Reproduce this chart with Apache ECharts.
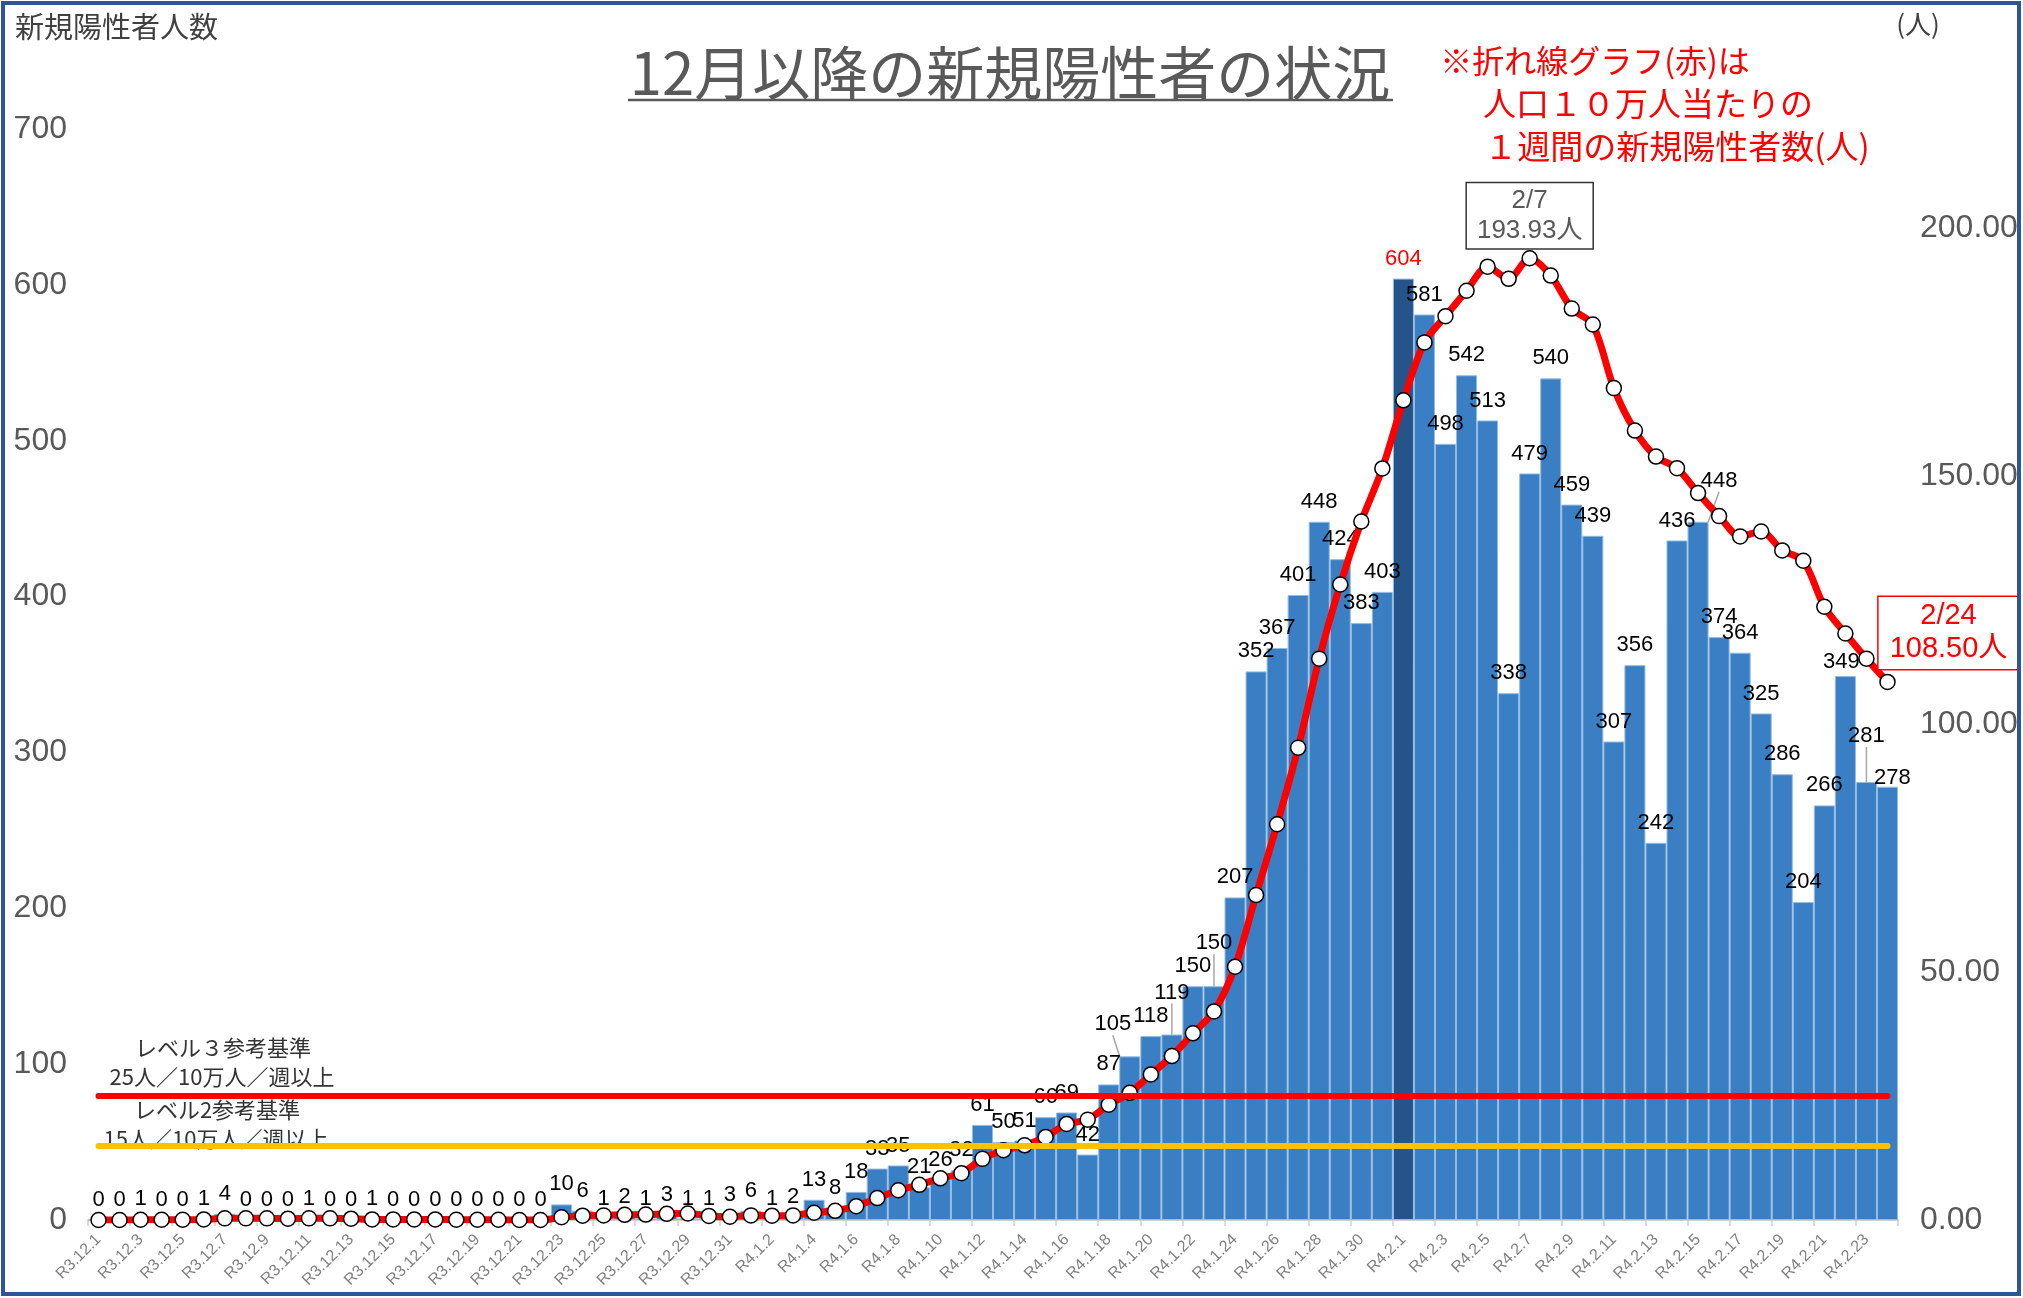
<!DOCTYPE html>
<html>
<head>
<meta charset="utf-8">
<script src="https://cdn.jsdelivr.net/npm/echarts@6/dist/echarts.min.js"></script>
<style>html,body{margin:0;padding:0;background:#fff;}#c{width:2023px;height:1298px;}</style>
</head>
<body>
<div id="c"></div>
<script>
// ---- data ----
const categories = [
 'R3.12.1','R3.12.2','R3.12.3','R3.12.4','R3.12.5','R3.12.6','R3.12.7','R3.12.8','R3.12.9','R3.12.10',
 'R3.12.11','R3.12.12','R3.12.13','R3.12.14','R3.12.15','R3.12.16','R3.12.17','R3.12.18','R3.12.19','R3.12.20',
 'R3.12.21','R3.12.22','R3.12.23','R3.12.24','R3.12.25','R3.12.26','R3.12.27','R3.12.28','R3.12.29','R3.12.30','R3.12.31',
 'R4.1.1','R4.1.2','R4.1.3','R4.1.4','R4.1.5','R4.1.6','R4.1.7','R4.1.8','R4.1.9','R4.1.10',
 'R4.1.11','R4.1.12','R4.1.13','R4.1.14','R4.1.15','R4.1.16','R4.1.17','R4.1.18','R4.1.19','R4.1.20',
 'R4.1.21','R4.1.22','R4.1.23','R4.1.24','R4.1.25','R4.1.26','R4.1.27','R4.1.28','R4.1.29','R4.1.30','R4.1.31',
 'R4.2.1','R4.2.2','R4.2.3','R4.2.4','R4.2.5','R4.2.6','R4.2.7','R4.2.8','R4.2.9','R4.2.10',
 'R4.2.11','R4.2.12','R4.2.13','R4.2.14','R4.2.15','R4.2.16','R4.2.17','R4.2.18','R4.2.19','R4.2.20',
 'R4.2.21','R4.2.22','R4.2.23','R4.2.24'
];
const newCases = [
 0,0,1,0,0,1,4,0,0,0,1,0,0,1,0,0,0,0,0,0,0,0,10,6,1,2,1,3,1,1,3,
 6,1,2,13,8,18,33,35,21,26,32,61,50,51,66,69,42,87,105,118,119,150,150,207,352,367,401,448,424,383,403,
 604,581,498,542,513,338,479,540,459,439,307,356,242,436,448,374,364,325,286,204,266,349,281,278
];
const per100k = [
 0.00,0.00,0.05,0.05,0.05,0.11,0.33,0.33,0.33,0.27,0.33,0.33,0.27,0.11,0.11,0.11,0.11,0.05,0.05,0.05,0.00,0.00,0.55,0.87,0.93,1.04,1.09,1.25,1.31,0.82,0.65,
 0.93,0.87,0.93,1.47,1.85,2.78,4.42,6.00,7.09,8.40,9.44,12.33,14.07,15.06,16.75,19.37,20.24,23.24,25.64,29.35,33.06,37.64,42.06,51.06,65.52,79.81,95.25,113.20,128.15,140.86,151.55,
 165.29,176.97,182.26,187.39,192.24,189.79,193.93,190.44,183.79,180.57,167.75,159.19,153.95,151.60,146.58,141.94,137.85,138.84,135.02,132.94,123.67,118.27,113.20,108.50
];
const leftTicks = [0,700,100];
const rightTicks = [0,220,50];
const level3 = 25, level2 = 15;
const peakCat = 'R4.2.7', peakVal = 193.93;
const lastCat = 'R4.2.24', lastVal = 108.50;
const highlightCat = 'R4.2.1';

// ---- styles / label tweaks (not data) ----
const labelMoves = {49:[-17,-12,true],51:[0,-22,true],53:[0,-23,true],76:[21,-21,true],83:[-4,6,false],84:[0,-26,true],85:[5,11,false]};
const NUM = "'Liberation Sans', Arial, 'Noto Sans CJK JP', sans-serif";
const JP = "'Noto Sans CJK JP', sans-serif";

const barData = newCases.map((v,i)=>{
  const item = {value:v};
  if (categories[i] === highlightCat) {
    item.itemStyle = {color:'#25548A'};
    item.label = {color:'#FF0000'};
  }
  if (labelMoves[i] && labelMoves[i][2]) item.labelLine = {show:true, lineStyle:{color:'#a6a6a6', width:1.5}};
  return item;
});

const chart = echarts.init(document.getElementById('c'));
const option = {
  backgroundColor:'#ffffff',
  animation:false,
  grid:{left:88,right:125,top:129,bottom:78},
  xAxis:{
    type:'category', data:categories, boundaryGap:true,
    axisLine:{show:true, lineStyle:{color:'#d0d0d0', width:2}},
    axisTick:{show:true, interval:1, length:6, lineStyle:{color:'#d0d0d0', width:1.5}},
    axisLabel:{interval:1, rotate:45, fontSize:16, color:'#7f7f7f', margin:17, fontFamily:NUM}
  },
  yAxis:[
    {type:'value', min:leftTicks[0], max:leftTicks[1], interval:leftTicks[2],
     splitLine:{show:false}, axisLine:{show:false}, axisTick:{show:false},
     axisLabel:{fontSize:32, color:'#595959', margin:21, fontFamily:NUM}},
    {type:'value', min:rightTicks[0], max:rightTicks[1], interval:rightTicks[2], position:'right',
     splitLine:{show:false}, axisLine:{show:false}, axisTick:{show:false},
     axisLabel:{fontSize:32, color:'#595959', margin:22, fontFamily:NUM, showMaxLabel:false,
       formatter:(v)=> v>200 ? '' : v.toFixed(2)}}
  ],
  series:[
    {
      type:'bar', yAxisIndex:0, data:barData, barCategoryGap:'0%', barGap:'0%',
      itemStyle:{color:'#3A7FC3', borderColor:'#94BCE3', borderWidth:1},
      label:{show:true, position:'top', distance:9, color:'#000', fontSize:22, fontFamily:NUM},
      labelLayout:(p)=>{ const m = labelMoves[p.dataIndex]; return m ? {dx:m[0], dy:m[1]} : {}; },
      z:2
    },
    {
      type:'line', yAxisIndex:1, data:per100k, smooth:0.3,
      symbol:'circle', symbolSize:15, showAllSymbol:true,
      lineStyle:{color:'#FF0000', width:7},
      itemStyle:{color:'#ffffff', borderColor:'#000000', borderWidth:1.5},
      z:4,
      markLine:{
        silent:true, symbol:['none','none'], animation:false,
        label:{show:false},
        data:[
          [{coord:[categories[0], level3], lineStyle:{color:'#FF0000', width:6, type:'solid', cap:'round'}},
           {coord:[categories[categories.length-1], level3]}],
          [{coord:[categories[0], level2], lineStyle:{color:'#FFC000', width:6, type:'solid', cap:'round'}},
           {coord:[categories[categories.length-1], level2]}]
        ]
      },
      markPoint:{
        silent:true, symbol:'circle', symbolSize:0, animation:false,
        data:[
          {coord:[peakCat, peakVal], value:peakVal,
           label:{show:true, position:'top', distance:10, formatter:'2/7\n193.93人',
             color:'#595959', fontSize:26, lineHeight:30, fontFamily:NUM, align:'center',
             backgroundColor:'#ffffff', borderColor:'#333333', borderWidth:1.5, padding:[3,10,2,10]}},
          {coord:[lastCat, lastVal], value:lastVal,
           label:{show:true, position:'inside', offset:[61,-49], formatter:'2/24\n108.50人',
             color:'#FF0000', fontSize:29, lineHeight:33, fontFamily:NUM, align:'center',
             backgroundColor:'#ffffff', borderColor:'#FF0000', borderWidth:1.5, padding:[3,11,3,11]}}
        ]
      }
    }
  ],
  graphic:[
    {type:'rect', shape:{x:3,y:3,width:2016,height:1291}, style:{fill:'none', stroke:'#2F5597', lineWidth:4}, z:10},
    {type:'text', x:15, y:27, style:{text:'新規陽性者人数', fontSize:29, fontFamily:JP, fill:'#404040', verticalAlign:'middle', align:'left'}},
    {type:'text', x:1918, y:24, style:{text:'(人)', fontSize:26, fontFamily:JP, fill:'#404040', verticalAlign:'middle', align:'center'}},
    {type:'text', x:1010, y:73, style:{text:'12月以降の新規陽性者の状況', fontSize:58, fontFamily:JP, fill:'#595959', verticalAlign:'middle', align:'center'}},
    {type:'line', shape:{x1:628,y1:100,x2:1393,y2:100}, style:{stroke:'#595959', lineWidth:2.5}},
    {type:'text', x:1595, y:61, style:{text:'※折れ線グラフ(赤)は', fontSize:32, fontFamily:JP, fill:'#FF0000', verticalAlign:'middle', align:'center'}},
    {type:'text', x:1648, y:103, style:{text:'人口１０万人当たりの', fontSize:33, fontFamily:JP, fill:'#FF0000', verticalAlign:'middle', align:'center'}},
    {type:'text', x:1677, y:146, style:{text:'１週間の新規陽性者数(人)', fontSize:33, fontFamily:JP, fill:'#FF0000', verticalAlign:'middle', align:'center'}},
    {type:'text', x:223, y:1048, style:{text:'レベル３参考基準', fontSize:22, fontFamily:JP, fill:'#333333', verticalAlign:'middle', align:'center'}, z:5},
    {type:'text', x:222, y:1077, style:{text:'25人／10万人／週以上', fontSize:22, fontFamily:JP, fill:'#333333', verticalAlign:'middle', align:'center'}, z:5},
    {type:'text', x:217, y:1110, style:{text:'レベル2参考基準', fontSize:22, fontFamily:JP, fill:'#333333', verticalAlign:'middle', align:'center'}, z:5},
    {type:'text', x:216, y:1139, style:{text:'15人／10万人／週以上', fontSize:22, fontFamily:JP, fill:'#333333', verticalAlign:'middle', align:'center'}, z:5}
  ]
};
chart.setOption(option);
</script>
</body>
</html>
